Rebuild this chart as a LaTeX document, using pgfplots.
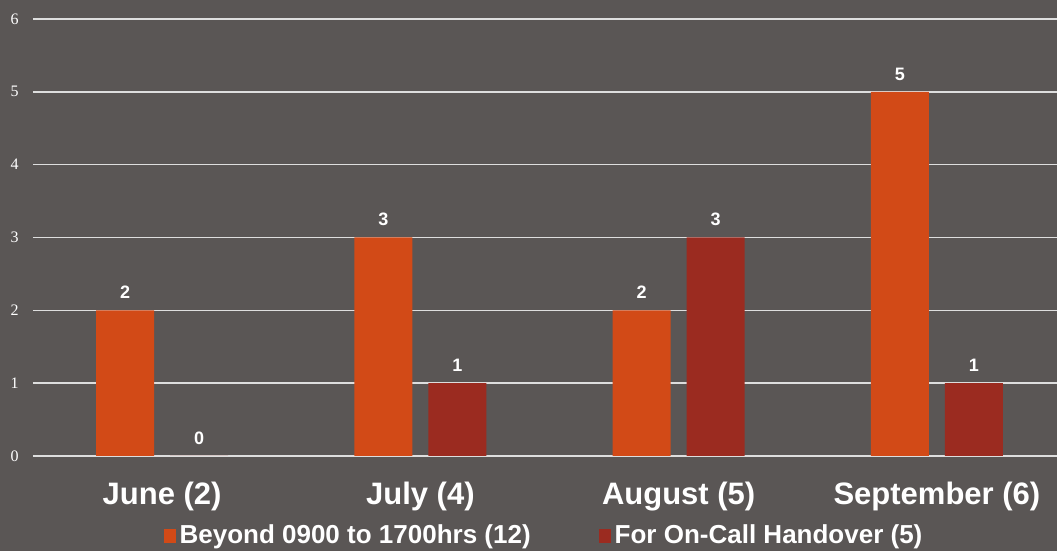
\documentclass[border=0pt]{standalone}
\usepackage{pgfplots}
\pgfplotsset{compat=1.18}
\usepackage{fontspec}
\setmainfont{Liberation Sans}
\newfontfamily\seriffont{Liberation Serif}
\definecolor{bg}{RGB}{90,86,85}
\definecolor{cA}{RGB}{210,74,23}
\definecolor{cB}{RGB}{155,43,32}
\definecolor{gridc}{RGB}{222,222,222}
\begin{document}
\begin{tikzpicture}
\fill[bg] (0pt,0pt) rectangle (528.5pt,275.5pt);
\useasboundingbox (0pt,0pt) rectangle (528.5pt,275.5pt);
\begin{axis}[
  at={(16.5pt,47.5pt)}, anchor=south west,
  width=512pt, height=218.5pt, scale only axis,
  xmin=-0.5, xmax=3.465, ymin=0, ymax=6,
  axis line style={draw=none},
  major tick length=0pt,
  ytick={0,1,2,3,4,5,6},
  ymajorgrids, grid style={gridc, line width=0.75pt},
  xtick={0,1,2,3},
  xticklabels={June (2), July (4), August (5), September (6)},
  /pgf/number format/assume math mode=true,
  xticklabel style={font=\bfseries\fontsize{15.5}{18}\selectfont, text=white, anchor=base, inner sep=0pt, yshift=-24.5pt},
  yticklabel style={font=\seriffont\fontsize{8}{9}\selectfont, text=white, anchor=east, inner sep=0pt, xshift=-7pt},
  nodes near coords,
  legend style={at={(0.5,-0.183)}, anchor=center, draw=none, fill=none, text=white,
    font=\bfseries\fontsize{13}{15}\selectfont, legend columns=2,
    /tikz/every even column/.append style={column sep=32pt}},
  legend cell align=left,
]
\addplot[ybar, bar width=29pt, bar shift=-18.5pt, fill=cA, draw=none,
  every node near coord/.append style={font=\bfseries\fontsize{9}{10}\selectfont, text=white, inner sep=0pt, anchor=south, yshift=5.5pt, xshift=-18.5pt},
  legend image code/.code={\fill[cA] (0pt,-3.5pt) rectangle (6pt,3.5pt);}]
  coordinates {(0,2) (1,3) (2,2) (3,5)};
\addplot[ybar, bar width=29pt, bar shift=18.5pt, fill=cB, draw=none,
  every node near coord/.append style={font=\bfseries\fontsize{9}{10}\selectfont, text=white, inner sep=0pt, anchor=south, yshift=5.5pt, xshift=18.5pt},
  legend image code/.code={\fill[cB] (0pt,-3.5pt) rectangle (6pt,3.5pt);}]
  coordinates {(0,0) (1,1) (2,3) (3,1)};
\legend{Beyond 0900 to 1700hrs (12), For On-Call Handover (5)}
\end{axis}
\end{tikzpicture}
\end{document}
